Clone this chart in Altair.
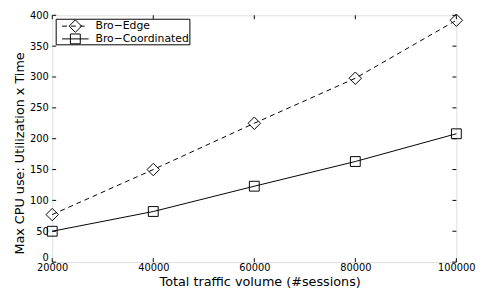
import altair as alt
import pandas as pd

sessions = [20000, 40000, 60000, 80000, 100000]
edge = [77, 150, 225, 298, 392]
coord = [50, 82, 123, 163, 208]
series = ["Bro\u2212Edge", "Bro\u2212Coordinated"]
x_ticks = [20000, 40000, 60000, 80000, 100000]
y_ticks = [0, 50, 100, 150, 200, 250, 300, 350, 400]
x_title = "Total traffic volume (#sessions)"
y_title = "Max CPU use: Utilization x Time"

W, H = 411, 251
FONT = "DejaVu Sans"

df_edge = pd.DataFrame({"x": sessions, "y": edge})
df_coord = pd.DataFrame({"x": sessions, "y": coord})
df_xt = pd.DataFrame({"x": x_ticks})
df_yt = pd.DataFrame({"y": y_ticks})

xs = alt.Scale(domain=[20000, 100000], nice=False)
ys = alt.Scale(domain=[0, 400], nice=False)

x_enc = alt.X("x:Q", scale=xs, axis=alt.Axis(
    title=x_title, values=x_ticks, format="d", ticks=False, domain=False, grid=False,
    labelFlush=False, labelFontSize=10, titleFontSize=13, labelPadding=1, titlePadding=3,
    titleX=211, labelColor="black", titleColor="black", titleFontWeight="normal",
    labelFont=FONT, titleFont=FONT))
y_enc = alt.Y("y:Q", scale=ys, axis=alt.Axis(
    title=y_title, values=y_ticks, ticks=False, domain=False, grid=False,
    labelFlush=False, labelFontSize=10, titleFontSize=13, labelPadding=4, titlePadding=3,
    labelBaseline={"condition": {"test": "datum.value === 0", "value": "bottom"}, "value": "middle"},
    titleY=140, labelColor="black", titleColor="black", titleFontWeight="normal",
    labelFont=FONT, titleFont=FONT))

edge_line = alt.Chart(df_edge).mark_line(color="black", strokeWidth=1, strokeDash=[5, 4]).encode(x=x_enc, y=y_enc)
edge_pts = alt.Chart(df_edge).mark_point(shape="diamond", size=160, filled=False, color="black", strokeWidth=1, opacity=1).encode(x=x_enc, y=y_enc)
coord_line = alt.Chart(df_coord).mark_line(color="black", strokeWidth=1).encode(x=x_enc, y=y_enc)
coord_pts = alt.Chart(df_coord).mark_point(shape="square", size=100, filled=False, color="black", strokeWidth=1, opacity=1).encode(x=x_enc, y=y_enc)

tk = dict(color="black", strokeWidth=1)
xt_bot = alt.Chart(df_xt).mark_rule(**tk).encode(x=x_enc, y=alt.value(H), y2=alt.value(H - 4))
xt_top = alt.Chart(df_xt).mark_rule(**tk).encode(x=x_enc, y=alt.value(0), y2=alt.value(4))
yt_left = alt.Chart(df_yt).mark_rule(**tk).encode(y=y_enc, x=alt.value(0), x2=alt.value(4))
yt_right = alt.Chart(df_yt).mark_rule(**tk).encode(y=y_enc, x=alt.value(W - 4), x2=alt.value(W))

one = pd.DataFrame({"label": series})
leg_box = alt.Chart(one.head(1)).mark_rect(fill="white", stroke="black", strokeWidth=1).encode(
    x=alt.value(4), x2=alt.value(140), y=alt.value(4), y2=alt.value(30))
leg_l1 = alt.Chart(one.head(1)).mark_rule(color="black", strokeWidth=1, strokeDash=[5, 4]).encode(
    x=alt.value(10), x2=alt.value(37), y=alt.value(11))
leg_p1 = alt.Chart(one.head(1)).mark_point(shape="diamond", size=160, filled=False, color="black", strokeWidth=1, opacity=1).encode(
    x=alt.value(23.5), y=alt.value(11))
leg_t1 = alt.Chart(one.iloc[[0]]).mark_text(align="left", baseline="middle", fontSize=11, font=FONT, color="black").encode(
    x=alt.value(44), y=alt.value(11), text="label:N")
leg_l2 = alt.Chart(one.head(1)).mark_rule(color="black", strokeWidth=1).encode(
    x=alt.value(10), x2=alt.value(37), y=alt.value(24))
leg_p2 = alt.Chart(one.head(1)).mark_point(shape="square", size=100, filled=False, color="black", strokeWidth=1, opacity=1).encode(
    x=alt.value(23.5), y=alt.value(24))
leg_t2 = alt.Chart(one.iloc[[1]]).mark_text(align="left", baseline="middle", fontSize=11, font=FONT, color="black").encode(
    x=alt.value(44), y=alt.value(24), text="label:N")

chart = alt.layer(
    edge_line, edge_pts, coord_line, coord_pts,
    xt_bot, xt_top, yt_left, yt_right,
    leg_box, leg_l1, leg_p1, leg_t1, leg_l2, leg_p2, leg_t2,
).properties(
    width=W, height=H,
    autosize=alt.AutoSizeParams(type="none"),
    padding={"left": 45, "top": 5, "right": 21, "bottom": 29},
    background="white",
).configure_view(stroke="black", strokeWidth=1).configure(font=FONT)

chart.save("out.html", embed_options={"renderer": "svg", "actions": False})
